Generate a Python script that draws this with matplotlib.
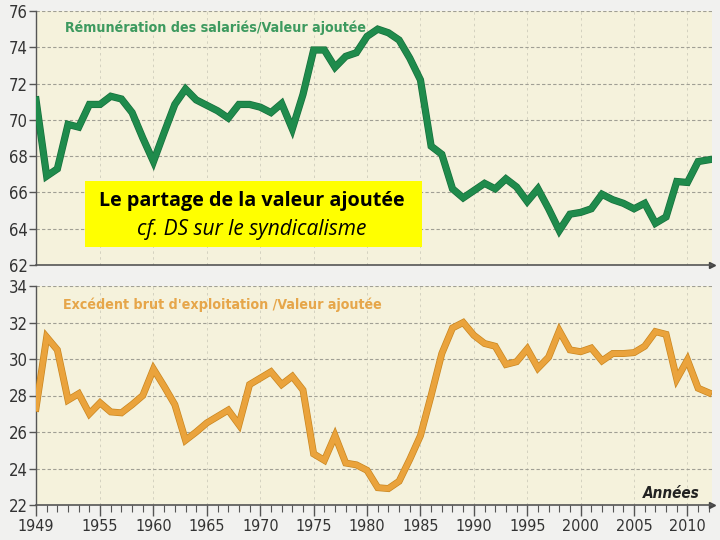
"""Partage de la valeur ajoutée : rémunération des salariés et EBE (1949-2012)."""
import matplotlib.pyplot as plt
import matplotlib.patheffects as pe

years = list(range(1949, 2013))

remuneration = [
    71.1, 66.9, 67.3, 69.75, 69.6, 70.85, 70.85, 71.3, 71.15, 70.4,
    69.0, 67.7, 69.3, 70.85, 71.7, 71.1, 70.8, 70.5, 70.1, 70.85,
    70.85, 70.7, 70.4, 70.9, 69.5, 71.4, 73.85, 73.85, 72.9, 73.5,
    73.7, 74.6, 75.0, 74.8, 74.4, 73.4, 72.2, 68.55, 68.1, 66.2,
    65.7, 66.1, 66.5, 66.2, 66.75, 66.3, 65.5, 66.2, 65.1, 63.9,
    64.8, 64.9, 65.1, 65.9, 65.6, 65.4, 65.1, 65.4, 64.3, 64.65,
    66.6, 66.55, 67.7, 67.8,
]

ebe = [
    27.3, 31.2, 30.5, 27.75, 28.1, 27.0, 27.6, 27.1, 27.05, 27.5,
    28.0, 29.45, 28.5, 27.5, 25.55, 26.0, 26.5, 26.85, 27.2, 26.4,
    28.6, 28.95, 29.3, 28.6, 29.05, 28.3, 24.8, 24.45, 25.8, 24.3,
    24.2, 23.9, 22.95, 22.9, 23.3, 24.5, 25.8, 28.0, 30.3, 31.7,
    32.0, 31.3, 30.85, 30.7, 29.7, 29.85, 30.55, 29.5, 30.1, 31.55,
    30.5, 30.4, 30.6, 29.9, 30.3, 30.3, 30.35, 30.7, 31.5, 31.35,
    28.9, 29.95, 28.4, 28.15,
]

top_ticks = [62, 64, 66, 68, 70, 72, 74, 76]
bottom_ticks = [22, 24, 26, 28, 30, 32, 34]
year_ticks = [1949, 1955, 1960, 1965, 1970, 1975, 1980, 1985, 1990, 1995, 2000, 2005, 2010]

BG = "#f5f2dc"
GRID = "#a09f94"
GREEN = "#1f8b4c"
ORANGE = "#eaa33c"
NARROW = dict(family="DejaVu Sans", fontstretch="condensed")

fig = plt.figure(figsize=(7.2, 5.4), dpi=100, facecolor="#f1f1ef")
ax1 = fig.add_axes([36/720, 1 - 265/540, 676/720, 254/540])
ax2 = fig.add_axes([36/720, 1 - 505/540, 676/720, 219/540])

for ax, ticks in ((ax1, top_ticks), (ax2, bottom_ticks)):
    ax.set_facecolor(BG)
    ax.set_xlim(1949, 2012.3)
    ax.set_ylim(ticks[0], ticks[-1])
    ax.set_yticks(ticks)
    for t in ticks[1:]:
        ax.axhline(t, color=GRID, lw=0.8, ls=(0, (3, 2)), zorder=1)
    for y in year_ticks[1:]:
        ax.axvline(y, color=GRID, lw=0.6, ls=(0, (3, 4)), alpha=0.45, zorder=1)
    for s in ("top", "right"):
        ax.spines[s].set_visible(False)
    ax.spines["left"].set_color("#555555")
    ax.spines["bottom"].set_color("#555555")
    ax.spines["left"].set_linewidth(1.0)
    ax.spines["bottom"].set_linewidth(1.2)
    ax.tick_params(axis="y", direction="out", length=5, width=1, color="#555555",
                   labelsize=12, pad=1, labelcolor="#333333")
    for lab in ax.get_yticklabels():
        lab.set(**NARROW)
    ax.plot([1], [0], marker=">", color="#444444", markersize=5,
            transform=ax.transAxes, clip_on=False)

ax1.set_xticks([])

ax2.set_xticks(year_ticks)
ax2.set_xticks(years, minor=True)
ax2.tick_params(axis="x", which="major", direction="out", length=8, width=1,
                color="#555555", labelsize=11.5, pad=2, labelcolor="#333333")
ax2.tick_params(axis="x", which="minor", direction="out", length=5, width=0.8,
                color="#555555")
for lab in ax2.get_xticklabels():
    lab.set(**NARROW)

ax1.plot(years, remuneration, color=GREEN, lw=4.2, solid_joinstyle="miter", zorder=3,
         path_effects=[pe.Stroke(linewidth=5.2, foreground="#17703c"), pe.Normal()])
ax2.plot(years, ebe, color=ORANGE, lw=4.0, solid_joinstyle="miter", zorder=3,
         path_effects=[pe.Stroke(linewidth=5.0, foreground="#c9861f"), pe.Normal()])

fig.text(65/720, 1 - 28/540, "Rémunération des salariés/Valeur ajoutée",
         fontsize=10.2, fontweight="bold", color="#3d9a5f",
         ha="left", va="center", **NARROW)
fig.text(63/720, 1 - 305/540, "Excédent brut d'exploitation /Valeur ajoutée",
         fontsize=10.2, fontweight="bold", color="#e6a64a",
         ha="left", va="center", **NARROW)
fig.text(700/720, 1 - 494/540, "Années", fontsize=11,
         fontweight="bold", fontstyle="italic", color="#222222",
         ha="right", va="center", **NARROW)

# encadré jaune
box = plt.Rectangle((85/720, 1 - 247/540), 337/720, 66/540, transform=fig.transFigure,
                    facecolor="#ffff00", edgecolor="none", zorder=5)
fig.patches.append(box)
fig.text(252/720, 1 - 201/540, "Le partage de la valeur ajoutée",
         family=["Open Sans", "DejaVu Sans"], fontsize=14.2, fontweight="bold",
         color="black", ha="center", va="center", zorder=6)
fig.text(252/720, 1 - 229/540, "cf. DS sur le syndicalisme",
         family=["Open Sans", "DejaVu Sans"], fontsize=15, fontstyle="italic",
         color="black", ha="center", va="center", zorder=6)

plt.savefig("out.png", dpi=100, facecolor=fig.get_facecolor())
